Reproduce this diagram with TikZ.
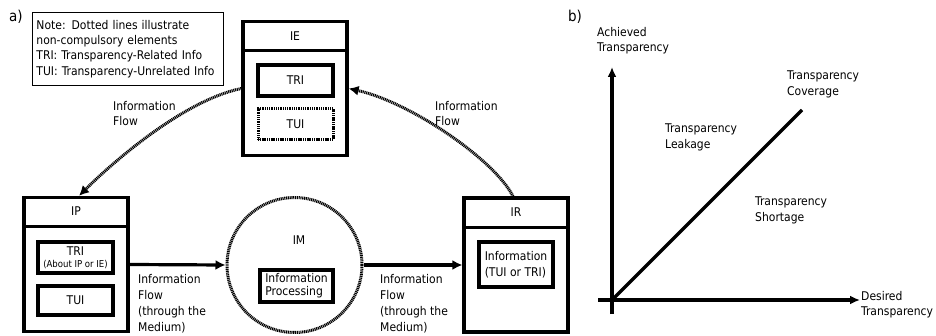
\documentclass[tikz,border=0pt]{standalone}
\usepackage{fontspec}
\setmainfont{DejaVu Sans Condensed}
\usetikzlibrary{arrows.meta}
\begin{document}
\begin{tikzpicture}[x=1pt,y=-1pt,
  txt/.style={inner sep=0, align=left, anchor=north west, font=\fontsize{12}{15.5}\selectfont},
  lbl/.style={inner sep=0, font=\fontsize{12}{15.5}\selectfont},
  big/.style={inner sep=0, font=\fontsize{15}{18}\selectfont},
  outerbox/.style={draw, line width=3.2pt, minimum width=104pt, minimum height=134pt, inner sep=0},
  innerbox/.style={draw, line width=3.2pt, minimum width=75pt, minimum height=31pt, inner sep=0, align=center, font=\fontsize{12}{13}\selectfont},
  dotbox/.style={innerbox, line width=3pt, dash pattern=on 1.1pt off 0.7pt},
  dotcircle/.style={draw, circle, line width=3pt, dash pattern=on 1.1pt off 0.7pt, minimum size=135pt, inner sep=0},
  flow/.style={line width=3.2pt, -{Latex[length=10pt,width=10pt]}},
  dotflow/.style={line width=3pt, dash pattern=on 1.1pt off 0.7pt, -{Latex[length=10pt,width=10pt]}},
  axis/.style={line width=3.2pt},
  axisarrow/.style={line width=3.2pt, -{Latex[length=10pt,width=9pt]}},
  notebox/.style={draw, line width=0.9pt, anchor=north west, minimum width=191pt, minimum height=73pt, inner xsep=4pt, inner ysep=0pt, align=left, font=\fontsize{12}{15.3}\selectfont}
]
\useasboundingbox (0,0) rectangle (936,336);

% ---------- a) ----------
\node[big] (la) at (16,17) {a)};
\node[notebox, text width=183pt] (note) at (32,12) {Note: Dotted lines illustrate\\non-compulsory elements\\TRI: Transparency-Related Info\\TUI: Transparency-Unrelated Info};

% IE
\node[outerbox] (IE) at (295,88.5) {};
\draw[line width=3.2pt] ([yshift=-31pt]IE.north west) -- ([yshift=-31pt]IE.north east);
\node[lbl] (IEt) at ([yshift=-16pt]IE.north) {IE};
\node[innerbox] (IEtri) at (295.5,80.5) {TRI};
\node[dotbox] (IEtui) at (295.5,124.5) {TUI};

% IP
\node[outerbox] (IP) at (76,264.5) {};
\draw[line width=3.2pt] ([yshift=-31pt]IP.north west) -- ([yshift=-31pt]IP.north east);
\node[lbl] (IPt) at ([yshift=-15pt]IP.north) {IP};
\node[innerbox] (IPtri) at (75.5,257.5) {TRI\\[-1pt]{\fontsize{9.5}{10}\selectfont (About IP or IE)}};
\node[innerbox, minimum height=29pt] (IPtui) at (75.5,300.5) {TUI};

% IM
\node[dotcircle] (IM) at (294.5,265) {};
\node[lbl] (IMt) at (299,240) {IM};
\node[innerbox, minimum width=73pt, minimum height=32pt, align=left, inner xsep=1pt] (IMproc) at (296.5,286) {Information\\Processing};

% IR
\node[outerbox] (IR) at (516,265) {};
\draw[line width=3.2pt] ([yshift=-31pt]IR.north west) -- ([yshift=-31pt]IR.north east);
\node[lbl] (IRt) at ([yshift=-15.5pt]IR.north) {IR};
\node[innerbox, minimum width=74pt, minimum height=45pt, align=left, inner xsep=1pt, font=\fontsize{12}{15.5}\selectfont] (IRinfo) at (516,264.5) {Information\\(TUI or TRI)};

% flows
\draw[flow] (IP.east) -- (IM.west);
\draw[flow] (IM.east) -- (IR.west);
\draw[dotflow] (IE.west) .. controls (185,100) and (115,160) .. ([xshift=3pt]IP.north);
\draw[dotflow] ([xshift=-3pt]IR.north) .. controls (495,160) and (410,102) .. (IE.east);

\node[txt] (f1) at (113,101) {Information\\Flow};
\node[txt] (f2) at (435,101) {Information\\Flow};
\node[txt, font=\fontsize{12}{16}\selectfont] (f3) at (138,274) {Information\\Flow\\(through the\\Medium)};
\node[txt, font=\fontsize{12}{16}\selectfont] (f4) at (380,274) {Information\\Flow\\(through the\\Medium)};

% ---------- b) ----------
\node[big] (lb) at (575,17) {b)};
\coordinate (O) at (612,300);
\coordinate (Ytop) at (612,67);
\coordinate (Ybot) at (612,314);
\coordinate (Xleft) at (598,300);
\coordinate (Xtip) at (860,300);
\coordinate (D) at (802,110);
\draw[axisarrow] (Ybot) -- (Ytop);
\draw[axisarrow] (Xleft) -- (Xtip);
\draw[axis] (O) -- (D);

\node[txt] (ach) at (597,27) {Achieved\\Transparency};
\node[txt] (cov) at (787,71) {Transparency\\Coverage};
\node[txt] (leak) at (665,124) {Transparency\\Leakage};
\node[txt] (short) at (755,197) {Transparency\\Shortage};
\node[txt] (des) at (861,291) {Desired\\Transparency};
\end{tikzpicture}
\end{document}
